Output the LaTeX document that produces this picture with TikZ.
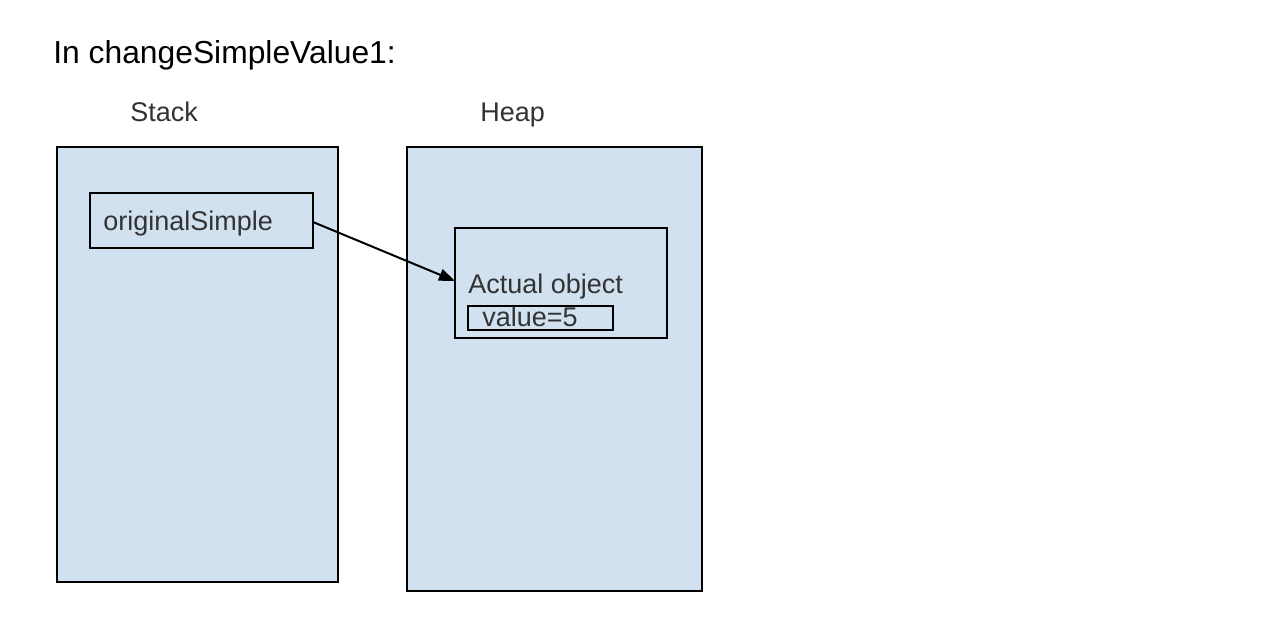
\documentclass[tikz,border=0pt]{standalone}
\usepackage{fontspec}
\setmainfont{Liberation Sans}
\usetikzlibrary{arrows.meta}
\definecolor{boxfill}{HTML}{D1E1F0}
\definecolor{labgray}{HTML}{333333}
\begin{document}
\begin{tikzpicture}[x=0.5pt,y=-0.5pt,
  region/.style={draw=black,line width=1.1pt,fill=boxfill},
  inner/.style={draw=black,line width=1pt},
  lbl/.style={anchor=base west,inner sep=0pt,font=\fontsize{13.5}{16}\selectfont,text=labgray},
  ttl/.style={anchor=base west,inner sep=0pt,font=\fontsize{15.9}{19}\selectfont,text=black}]
\useasboundingbox (0,0) rectangle (1288,638);
\node[ttl] (title) at (53,63) {In changeSimpleValue1:};
\node[lbl] (stacklbl) at (130,121) {Stack};
\node[lbl] (heaplbl) at (480,121) {Heap};
\draw[region] (57,147) rectangle (338,582);
\draw[region] (407,147) rectangle (702,591);
\draw[inner] (90,193) rectangle (313,248);
\coordinate (osR) at (313,222);
\node[lbl] (os) at (103,230) {originalSimple};
\draw[inner] (455,228) rectangle (667,338);
\coordinate (aoL) at (455,281);
\node[lbl] (ao) at (468,293) {Actual object};
\draw[inner] (468,306) rectangle (613,330);
\node[lbl] (val) at (482,326) {value=5};
\draw[line width=1pt,-{Triangle[length=8pt,width=6pt]}] (osR) -- (aoL);
\end{tikzpicture}
\end{document}
